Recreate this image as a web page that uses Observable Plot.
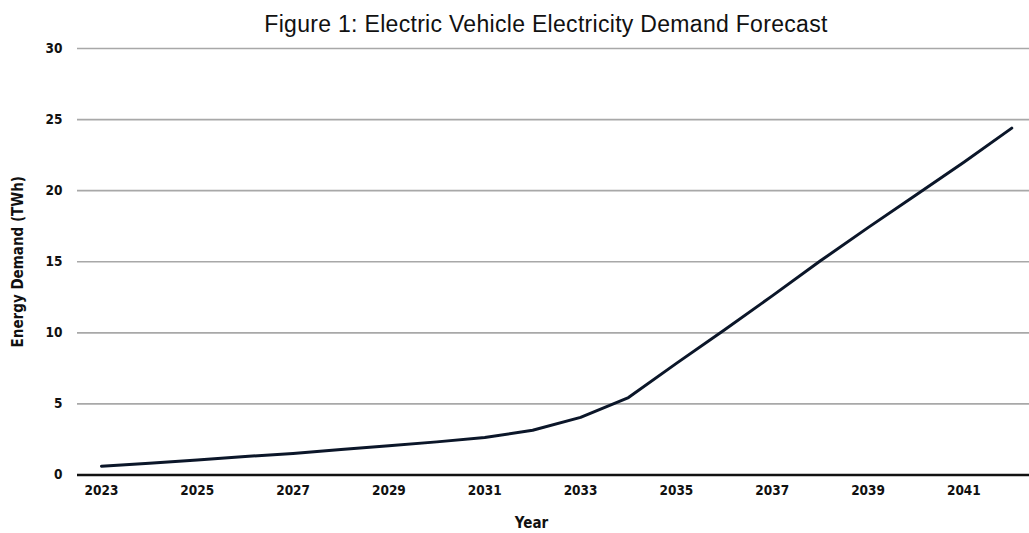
<!DOCTYPE html>
<html>
<head>
<meta charset="utf-8">
<script src="https://cdn.jsdelivr.net/npm/d3@7"></script>
<script src="https://cdn.jsdelivr.net/npm/@observablehq/plot@0.6"></script>
<style>
  html, body { margin: 0; padding: 0; background: #fff; }
  #title {
    height: 40px; line-height: 48px; padding-left: 63px; text-align: center;
    font-family: "Liberation Sans", Arial, sans-serif; font-size: 23px; letter-spacing: 0.3px; color: #111;
    white-space: nowrap; overflow: visible;
  }
  #chart svg { display: block; }
  #chart svg text { font-stretch: condensed; }
</style>
</head>
<body>
<div id="title">Figure 1: Electric Vehicle Electricity Demand Forecast</div>
<div id="chart"></div>
<script>
const years = [2023, 2024, 2025, 2026, 2027, 2028, 2029, 2030, 2031, 2032,
               2033, 2034, 2035, 2036, 2037, 2038, 2039, 2040, 2041, 2042];
const demandTWh = [0.62, 0.83, 1.05, 1.3, 1.52, 1.8, 2.05, 2.33, 2.64, 3.15,
                   4.05, 5.45, 7.85, 10.2, 12.6, 15.05, 17.4, 19.7, 22.0, 24.4];
const xTicks = [2023, 2025, 2027, 2029, 2031, 2033, 2035, 2037, 2039, 2041];
const yTicks = [0, 5, 10, 15, 20, 25, 30];
const yTitle = "Energy Demand (TWh)";
const xTitle = "Year";

const data = years.map((y, i) => ({year: y, value: demandTWh[i]}));
const font = "'DejaVu Sans Condensed', 'DejaVu Sans', sans-serif";

const chart = Plot.plot({
  width: 1029,
  height: 493,
  marginTop: 8,
  marginBottom: 58.5,
  marginLeft: 77,
  marginRight: 0,
  style: {fontFamily: font, fontSize: "13.5px", fontWeight: "bold", color: "#111", background: "#fff"},
  x: {domain: [2022.5, 2042.37], ticks: xTicks, tickFormat: d => String(d), tickSize: 0, tickPadding: 10, label: null},
  y: {domain: [0, 30], ticks: yTicks, tickSize: 0, tickPadding: 15, label: null},
  marks: [
    Plot.ruleY(yTicks.filter(d => d > 0), {stroke: "#a8a8a8", strokeWidth: 1.6}),
    Plot.ruleY([0], {stroke: "#111", strokeWidth: 2.5}),
    Plot.line(data, {x: "year", y: "value", stroke: "#0b1629", strokeWidth: 3, strokeLinejoin: "round"}),
    Plot.text([yTitle], {frameAnchor: "left", textAnchor: "middle", rotate: -90, dx: -59, fontSize: 15, fontWeight: "bold", fill: "#111"}),
    Plot.text([xTitle], {frameAnchor: "bottom", textAnchor: "middle", dx: -22, dy: 53, fontSize: 15, fontWeight: "bold", fill: "#111"})
  ]
});
document.getElementById("chart").appendChild(chart);
</script>
</body>
</html>
